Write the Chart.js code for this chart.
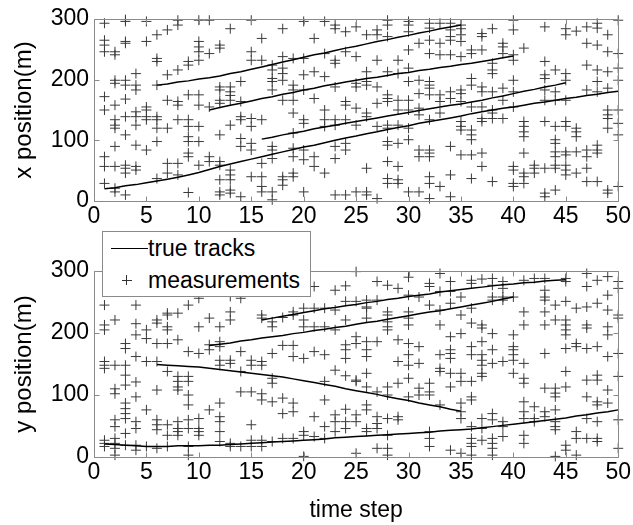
<!DOCTYPE html>
<html>
<head>
<meta charset="utf-8">
<script src="https://cdn.jsdelivr.net/npm/chart.js@4/dist/chart.umd.min.js"></script>
<style>
  html, body { margin: 0; padding: 0; background: #fff; }
  #wrap { position: relative; width: 633px; height: 525px; font-family: 'Liberation Sans', Arial, sans-serif; }
  canvas { position: absolute; left: 0; }
  #legend { position: absolute; left: 102px; top: 231px; width: 207px; height: 64px; border: 1px solid #8a8a8a; background: #fff; z-index: 2; }
  #legend .row { position: absolute; left: 0; font-size: 23px; line-height: 26px; color: #000; }
  #legend .txt { position: absolute; left: 45px; white-space: nowrap; }
  #legend .ln { position: absolute; left: 8px; top: 13px; width: 37px; height: 0; border-top: 1px solid #000; }
  #legend .ch { position: absolute; left: 19px; top: 13px; width: 10px; height: 0; border-top: 1px solid #333; }
  #legend .cv { position: absolute; left: 23px; top: 8px; width: 0; height: 10px; border-left: 1px solid #333; }
</style>
</head>
<body>
<div id="wrap">
  <canvas id="topChart" width="633" height="245" style="top:0"></canvas>
  <canvas id="bottomChart" width="633" height="280" style="top:245px"></canvas>
  <div id="legend">
    <div class="row" style="top:3px"><span class="ln"></span><span class="txt">true tracks</span></div>
    <div class="row" style="top:35px"><span class="ch"></span><span class="cv"></span><span class="txt">measurements</span></div>
  </div>
</div>
<script>
const xTicks = [0, 5, 10, 15, 20, 25, 30, 35, 40, 45, 50];
const yTicks = [0, 100, 200, 300];

// true tracks, x position (m), one value per time step from its start
const xTrackA = { start: 1, values: [20, 22, 25, 27, 30, 33, 36, 39, 43, 47, 52, 57, 61, 65, 69, 73, 77, 81, 85, 89, 92, 96, 100, 104, 107, 111, 114, 118, 121, 124, 128, 131, 134, 137, 140, 144, 147, 150, 153, 155, 158, 161, 163, 166, 169, 171, 174, 176, 179, 181] };
const xTrackB = { start: 16, values: [102, 105, 109, 112, 115, 119, 122, 125, 128, 131, 134, 137, 140, 143, 146, 149, 152, 155, 158, 160, 163, 166, 170, 173, 177, 181, 184, 188, 191, 195] };
const xTrackC = { start: 11, values: [150, 154, 158, 161, 165, 169, 172, 176, 179, 183, 186, 190, 193, 196, 199, 202, 204, 207, 210, 212, 215, 217, 220, 222, 225, 227, 230, 233, 236, 239] };
const xTrackD = { start: 6, values: [191, 193, 196, 198, 201, 203, 206, 210, 213, 217, 221, 225, 229, 233, 237, 241, 244, 248, 252, 255, 259, 263, 266, 270, 273, 277, 280, 284, 287, 290] };

// true tracks, y position (m)
const yTrackE = { start: 1, values: [21, 20, 19, 18, 17, 17, 17, 18, 18, 18, 19, 19, 20, 21, 22, 23, 24, 25, 26, 27, 28, 29, 31, 32, 33, 34, 35, 36, 37, 38, 39, 40, 42, 43, 44, 45, 47, 49, 51, 53, 55, 57, 59, 61, 63, 66, 68, 71, 73, 76] };
const yTrackF = { start: 6, values: [149, 148, 147, 146, 145, 143, 141, 139, 137, 135, 133, 131, 129, 126, 123, 120, 117, 114, 110, 107, 104, 101, 97, 94, 91, 87, 84, 81, 77, 74] };
const yTrackG = { start: 11, values: [180, 182, 184, 187, 189, 192, 194, 196, 199, 201, 204, 206, 209, 211, 214, 217, 219, 222, 225, 228, 231, 234, 236, 239, 242, 245, 248, 251, 255, 258] };
const yTrackH = { start: 16, values: [221, 224, 227, 230, 233, 236, 239, 241, 244, 246, 249, 251, 254, 256, 259, 261, 263, 266, 268, 270, 272, 274, 276, 278, 279, 281, 282, 284, 285, 286] };

// measurements per time step 1..50, x position (m)
const xMeas = [
  [293, 265, 257, 246, 172, 150, 73, 57, 29],
  [246, 241, 199, 194, 158, 134, 125, 120, 90, 57, 21, 15],
  [299, 296, 263, 260, 199, 191, 168, 139, 109, 59, 54, 46, 10],
  [210, 191, 183, 147, 139, 125, 92, 57, 51],
  [296, 263, 155, 150, 139, 134, 84],
  [274, 235, 230, 191, 139, 134, 120, 98, 37],
  [282, 208, 166, 120, 62, 46],
  [298, 290, 216, 164, 158, 134, 62, 43],
  [230, 224, 175, 134, 123, 106, 98, 79, 73, 14],
  [298, 263, 254, 246, 232, 175, 158, 123, 98, 59],
  [298, 243, 155, 73, 65],
  [257, 252, 188, 183, 166, 161, 109, 65, 59, 35, 15, 10],
  [284, 188, 180, 174, 166, 125, 51, 43, 35, 18, 13],
  [197, 164, 139, 134, 103, 90, 7],
  [298, 246, 232, 136, 123, 95, 84, 40],
  [268, 232, 134, 62, 40, 24, 15],
  [224, 216, 202, 197, 183, 90, 84, 70, 15, 2],
  [284, 238, 219, 210, 199, 166, 40, 35, 26],
  [235, 191, 183, 166, 145, 112, 87, 73, 46, 40],
  [296, 235, 208, 183, 134, 128, 84, 68, 15],
  [268, 213, 169, 73, 57],
  [296, 243, 205, 150, 134, 123, 46],
  [290, 284, 232, 227, 188, 134, 125, 90, 70, 10],
  [279, 246, 164, 158, 134, 95, 84, 10],
  [287, 238, 194, 188, 153, 125, 15],
  [274, 213, 197, 191, 145, 139, 54, 15, 10],
  [282, 274, 232, 188, 161, 123, 4],
  [298, 290, 271, 213, 175, 169, 164, 125, 120, 98, 92, 65, 37, 29],
  [232, 210, 166, 150, 125, 95, 57, 35, 29],
  [296, 290, 279, 249, 219, 197, 166, 150, 120, 101, 15],
  [260, 199, 177, 153, 142, 84, 73, 15],
  [293, 285, 265, 243, 197, 191, 186, 175, 134, 84, 79, 73, 40, 29, 4],
  [293, 260, 241, 175, 164, 145, 24],
  [293, 282, 271, 265, 241, 180, 169, 90, 43, 7],
  [290, 284, 274, 263, 238, 183, 177, 164, 131, 123, 117, 76],
  [249, 243, 202, 191, 155, 117, 109, 101, 76, 37],
  [276, 271, 249, 188, 180, 155, 136, 131, 79, 57],
  [284, 227, 216, 210, 180, 150, 145, 136, 32],
  [260, 254, 243, 186, 166, 136],
  [298, 282, 241, 232, 199, 180, 155, 57, 51, 29, 24],
  [252, 131, 123, 114, 106, 79, 46, 40, 29],
  [59, 54, 46],
  [287, 230, 208, 202, 183, 166, 131, 54, 13, 7],
  [216, 180, 166, 123, 101, 95, 81, 73, 59, 54, 18],
  [284, 274, 210, 199, 166, 131, 123, 81, 76, 59, 51, 43],
  [280, 120, 114, 106, 81, 46],
  [287, 260, 224, 183, 84, 73, 54, 32],
  [293, 285, 257, 216, 197, 180, 92, 84, 79, 32],
  [274, 246, 213, 186, 150, 142, 136, 120, 18, 13],
  [298, 243, 219, 199, 150, 128, 109, 24]
];

// measurements per time step 1..50, y position (m)
const yMeas = [
  [245, 213, 205, 154, 148, 143, 27, 22, 17],
  [221, 148, 110, 102, 60, 49, 30, 22, 14, 3],
  [183, 175, 148, 132, 116, 87, 78, 70, 62, 38, 19],
  [245, 215, 197, 162, 121, 97, 57, 46, 19, 11],
  [205, 191, 154, 76, 17],
  [221, 216, 183, 154, 108, 60, 52, 44, 14],
  [232, 229, 210, 205, 183, 138, 52, 35, 17],
  [232, 189, 130, 122, 113, 108, 57, 46, 41, 35],
  [245, 170, 130, 122, 100, 84, 60, 46, 17, 3],
  [256, 210, 167, 62, 46, 41, 35],
  [224, 181, 173, 76],
  [210, 186, 178, 156, 148, 87, 65, 57, 41, 25],
  [259, 234, 221, 156, 151, 22, 17],
  [256, 170, 138, 105, 17],
  [156, 148, 105, 52, 27, 17],
  [229, 224, 154, 148, 102, 92, 27, 17],
  [218, 210, 167, 127, 119, 89, 25],
  [225, 180, 95, 70, 30],
  [234, 229, 180, 162, 87, 73, 30],
  [240, 221, 210, 159, 41, 35, 1],
  [275, 240, 210, 170, 65, 33],
  [240, 210, 165, 122, 92, 49, 30],
  [269, 237, 205, 140, 68, 57, 41],
  [276, 251, 221, 181, 173, 159, 131, 77, 57, 46],
  [299, 251, 194, 183, 124, 122, 68, 57, 6],
  [253, 242, 240, 224, 186, 173, 162, 135, 113, 84, 76, 46, 41],
  [283, 253, 186, 105, 65, 54, 46, 14],
  [277, 234, 229, 218, 210, 205, 113, 100, 62, 35, 14, 3],
  [272, 189, 154, 119, 65, 60],
  [290, 261, 234, 224, 213, 183, 165, 148, 127, 97],
  [258, 178, 151, 111, 100],
  [280, 275, 245, 119, 105, 100, 41, 30, 17],
  [296, 267, 237, 213, 165, 143, 138, 84],
  [283, 267, 248, 194, 173, 167, 159, 135, 113, 11],
  [258, 229, 199, 135, 122, 87, 73, 62, 6],
  [285, 280, 240, 216, 178, 165, 122, 97, 92, 49, 30, 22, 17, 3],
  [287, 213, 208, 186, 165, 156, 148, 135, 130, 62, 46, 27],
  [288, 277, 258, 253, 199, 173, 151, 70, 60, 30, 22, 14, 3],
  [283, 272, 258, 253, 154, 57, 49, 33],
  [258, 197, 178, 173, 165, 156, 135],
  [285, 234, 213, 151, 127, 119, 89, 73, 62, 35, 22],
  [288, 81, 62, 57],
  [288, 269, 258, 253, 234, 213, 167, 111, 73, 65],
  [245, 221, 111, 103, 97, 76, 57, 49, 44, 1],
  [288, 283, 251, 221, 213, 205, 197, 175, 138, 113, 19, 11],
  [240, 183, 178, 41, 30, 3],
  [296, 275, 242, 213, 208, 175, 124, 97, 62, 30],
  [285, 248, 178, 132, 124, 89, 84, 57, 30, 25],
  [291, 261, 237, 210, 197, 162, 108, 87],
  [283, 272, 229, 224, 167, 130, 60, 14]
];

const FONT = "'Liberation Sans', Arial, sans-serif";

const trackPoints = tr => tr.values.map((v, i) => ({ x: tr.start + i, y: v }));
const measPoints = meas => meas.flatMap((col, i) => col.map(v => ({ x: i + 1, y: v })));

// gray box with inward ticks, matlab style
const framePlugin = {
    id: 'frame',
    afterDraw(chart) {
        const { ctx, chartArea: a, scales: { x, y } } = chart;
        const L = Math.round(a.left) + 0.5, R = Math.round(a.right) + 0.5;
        const T = Math.round(a.top) + 0.5, B = Math.round(a.bottom) + 0.5;
        ctx.save();
        ctx.strokeStyle = '#8a8a8a';
        ctx.lineWidth = 1;
        ctx.beginPath();
        ctx.rect(L, T, R - L, B - T);
        xTicks.forEach(t => {
            const px = Math.round(x.getPixelForValue(t)) + 0.5;
            ctx.moveTo(px, B); ctx.lineTo(px, B - 5);
            ctx.moveTo(px, T); ctx.lineTo(px, T + 5);
        });
        yTicks.forEach(t => {
            const py = Math.round(y.getPixelForValue(t)) + 0.5;
            ctx.moveTo(L, py); ctx.lineTo(L + 5, py);
            ctx.moveTo(R, py); ctx.lineTo(R - 5, py);
        });
        ctx.stroke();
        ctx.restore();
    },
};

function makeChart(id, tracks, meas, yTitle, xTitle, padTop, xHeight) {
    const datasets = tracks.map(tr => ({
        type: 'line',
        data: trackPoints(tr),
        borderColor: '#000',
        borderWidth: 1.5,
        pointRadius: 0,
        tension: 0,
        fill: false,
    }));
    datasets.push({
        type: 'scatter',
        data: measPoints(meas),
        pointStyle: 'cross',
        pointRadius: 5,
        borderColor: '#3a3a3a',
        borderWidth: 1,
        clip: false,
    });

    return new Chart(document.getElementById(id), {
        data: { datasets },
        plugins: [framePlugin],
        options: {
            responsive: false,
            animation: false,
            devicePixelRatio: 1,
            layout: { padding: { top: padTop, left: 0, right: 13, bottom: 0 } },
            plugins: { legend: { display: false }, tooltip: { enabled: false } },
            scales: {
                x: {
                    type: 'linear',
                    min: 0,
                    max: 50,
                    afterBuildTicks: s => { s.ticks = xTicks.map(v => ({ value: v })); },
                    ticks: { color: '#000', font: { family: FONT, size: 23 }, padding: 2, maxRotation: 0, autoSkip: false },
                    grid: { display: false, drawTicks: false },
                    border: { display: false },
                    title: {
                        display: !!xTitle,
                        text: xTitle || '',
                        color: '#000',
                        font: { family: FONT, size: 23 },
                        padding: { top: 0, bottom: 1 },
                    },
                    afterFit: s => { s.height = xHeight; },
                },
                y: {
                    type: 'linear',
                    min: 0,
                    max: 300,
                    afterBuildTicks: s => { s.ticks = yTicks.map(v => ({ value: v })); },
                    ticks: { color: '#000', font: { family: FONT, size: 23 }, padding: 5 },
                    grid: { display: false, drawTicks: false },
                    border: { display: false },
                    title: {
                        display: true,
                        text: yTitle,
                        color: '#000',
                        font: { family: FONT, size: 24 },
                        padding: { top: 10, bottom: 0 },
                    },
                    afterFit: s => { s.width = 94; },
                },
            },
        },
    });
}

makeChart('topChart', [xTrackA, xTrackB, xTrackC, xTrackD], xMeas, 'x position(m)', null, 19, 44);
makeChart('bottomChart', [yTrackE, yTrackF, yTrackG, yTrackH], yMeas, 'y position(m)', 'time step', 26, 68);
</script>
</body>
</html>
